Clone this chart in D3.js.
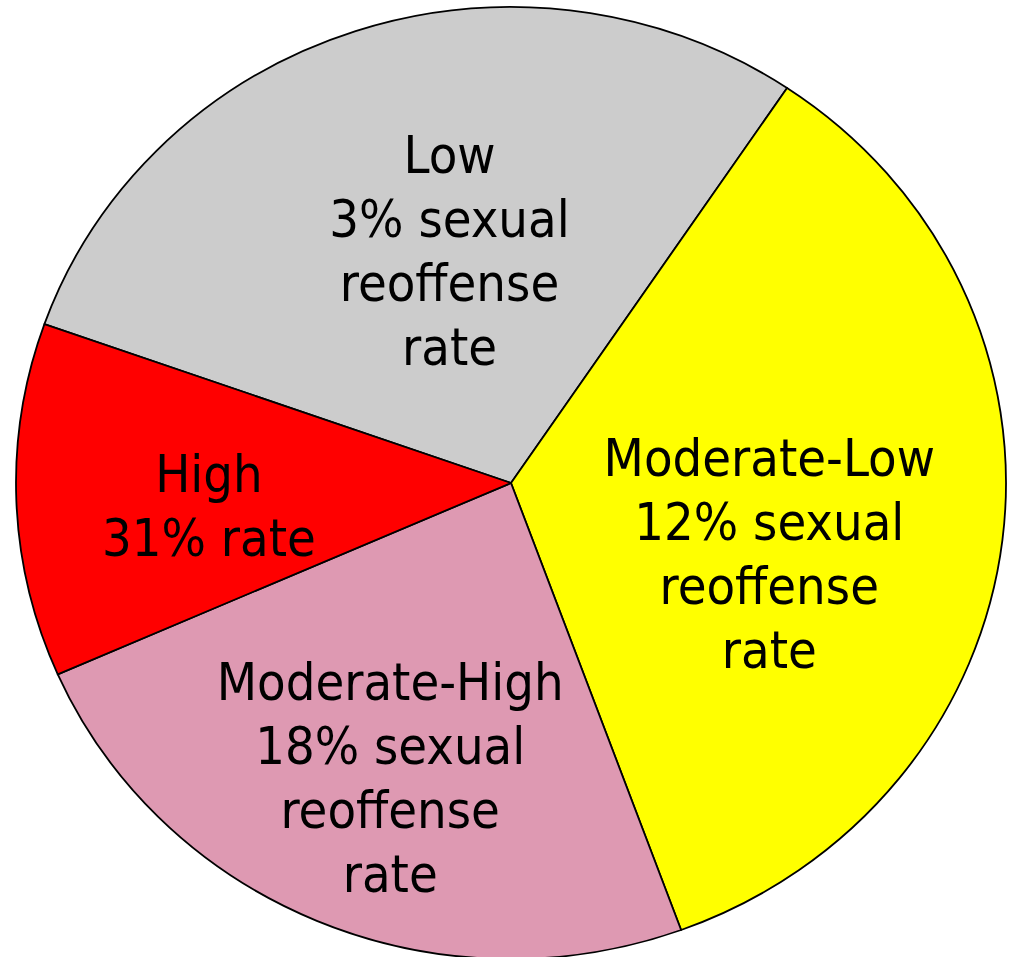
<!DOCTYPE html>
<html>
<head>
<meta charset="utf-8">
<script src="https://cdn.jsdelivr.net/npm/d3@7"></script>
<style>
  html, body { margin: 0; padding: 0; background: #fff; }
  svg { display: block; }
  .lbl { font-family: "DejaVu Sans Condensed", "DejaVu Sans", sans-serif; font-stretch: condensed; font-size: 52px; fill: #000; }
</style>
</head>
<body>
<div id="chart"></div>
<script>
// risk categories, clockwise from the upper-left
var categories = ["Low", "Moderate-Low", "Moderate-High", "High"];
// share of the pie (percent)
var shares = [29, 35, 24, 12];
var colors = ["#cccccc", "#ffff00", "#de99b2", "#ff0000"];
var labelLines = [
    ["Low", "3% sexual", "reoffense", "rate"],
    ["Moderate-Low", "12% sexual", "reoffense", "rate"],
    ["Moderate-High", "18% sexual", "reoffense", "rate"],
    ["High", "31% rate"]
];

// layout
var width = 1010, height = 957;
var cx = 511, cy = 483, rx = 495, ry = 476;
var lineH = 64, capH = 38;
// small hand nudges of the label blocks
var nudge = {
    "Low": [24, 16],
    "Moderate-Low": [-12, 39],
    "Moderate-High": [-14, 53],
    "High": [-30, 12]
};

var data = categories.map(function(c, i) {
    return {cat: c, value: shares[i], color: colors[i], lines: labelLines[i]};
});

var svg = d3.select("#chart").append("svg")
    .attr("width", width)
    .attr("height", height);

var pie = d3.pie()
    .sort(null)
    .value(function(d) { return d.value; })
    .startAngle(-70.5 * Math.PI / 180)
    .endAngle((360 - 70.5) * Math.PI / 180);

var arcs = pie(data);

var arc = d3.arc().innerRadius(0).outerRadius(rx);
var labelArc = d3.arc().innerRadius(rx * 0.55).outerRadius(rx * 0.55);

// the pie is a slightly squashed ellipse
var g = svg.append("g")
    .attr("transform", "translate(" + cx + "," + cy + ") scale(1," + (ry / rx) + ")");

g.selectAll("path")
    .data(arcs)
    .enter()
    .append("path")
    .attr("d", arc)
    .attr("fill", function(d) { return d.data.color; })
    .attr("stroke", "#000")
    .attr("stroke-width", 1.8)
    .attr("stroke-linejoin", "round")
    .attr("vector-effect", "non-scaling-stroke");

var tg = svg.append("g")
    .attr("transform", "translate(" + cx + "," + cy + ")");

tg.selectAll("text")
    .data(arcs)
    .enter()
    .append("text")
    .attr("class", "lbl")
    .attr("text-anchor", "middle")
    .each(function(d) {
        var c = labelArc.centroid(d);
        var n = nudge[d.data.cat];
        var x = c[0] + n[0];
        var y = c[1] * ry / rx + n[1];
        var lines = d.data.lines;
        var y0 = y - (lines.length - 1) * lineH / 2 + capH / 2;
        d3.select(this).selectAll("tspan")
            .data(lines)
            .enter()
            .append("tspan")
            .attr("x", x)
            .attr("y", function(l, i) { return y0 + i * lineH; })
            .text(function(l) { return l; });
    });
</script>
</body>
</html>
